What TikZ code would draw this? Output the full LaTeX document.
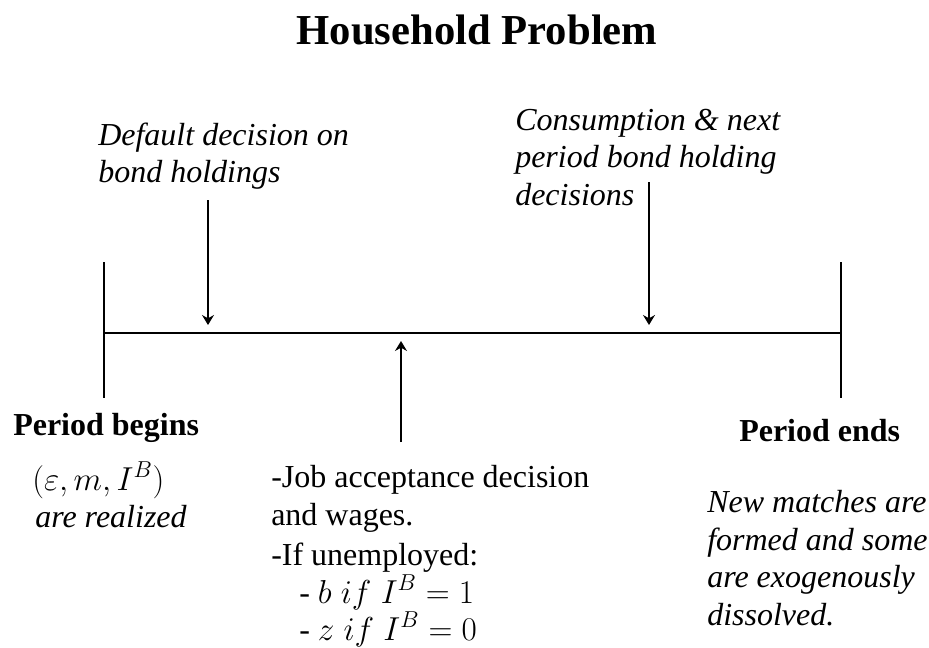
\documentclass[tikz,border=0pt]{standalone}
\usepackage{fontspec}
\setmainfont{Liberation Serif}
\usetikzlibrary{arrows.meta}
\begin{document}
\begin{tikzpicture}[x=0.75pt,y=-0.75pt,
  txt/.style={anchor=base west,inner sep=0pt,font=\fontsize{24}{28}\selectfont},
  itxt/.style={txt,font=\fontsize{24}{28}\selectfont\itshape},
  btxt/.style={txt,font=\fontsize{24}{28}\selectfont\bfseries},
  titletxt/.style={anchor=base,inner sep=0pt,font=\fontsize{32}{38}\selectfont\bfseries},
  timeline/.style={line width=2.2pt},
  tick/.style={line width=2pt},
  evarrow/.style={line width=1.4pt,-{Stealth[length=7.5pt,width=9pt,inset=2.5pt]}}]
\useasboundingbox (0,0) rectangle (929,647);
\fill[white] (0,0) rectangle (929,647);

% title
\node[titletxt] (title) at (477,44) {Household Problem};

% timeline and ticks
\coordinate (tlL) at (104,333);
\coordinate (tlR) at (841,333);
\coordinate (tickLtop) at (104,262);
\coordinate (tickLbot) at (104,398);
\coordinate (tickRtop) at (841,262);
\coordinate (tickRbot) at (841,398);
\draw[timeline] (tlL) -- (tlR);
\draw[tick] (tickLtop) -- (tickLbot);
\draw[tick] (tickRtop) -- (tickRbot);

% arrows
\coordinate (a1s) at (208,200);
\coordinate (a1e) at (208,325);
\coordinate (a2s) at (649,182);
\coordinate (a2e) at (649,325);
\coordinate (a3s) at (401,442);
\coordinate (a3e) at (401,341);
\draw[evarrow] (a1s) -- (a1e);
\draw[evarrow] (a2s) -- (a2e);
\draw[evarrow] (a3s) -- (a3e);

% top-left label
\node[itxt] (def1) at (98,145) {Default decision on};
\node[itxt] (def2) at (98,182) {bond holdings};

% top-right label
\node[itxt] (con1) at (515,130) {Consumption \& next};
\node[itxt] (con2) at (515,167) {period bond holding};
\node[itxt] (con3) at (515,205) {decisions};

% period begins
\node[btxt] (begins) at (13,435) {Period begins};
\node[txt] (state) at (32,490) {$(\varepsilon, m, I^{B})$};
\node[itxt] (real) at (35,527) {are realized};

% middle label
\node[txt] (job1) at (271,487) {-Job acceptance decision};
\node[txt] (job2) at (271,525) {and wages.};
\node[txt] (job3) at (271,565) {-If unemployed:};
\node[txt] (job4) at (299,603) {- $b\;if\;I^{B}=1$};
\node[txt] (job5) at (299,640) {- $z\;if\;I^{B}=0$};

% period ends
\node[btxt] (ends) at (739,441) {Period ends};
\node[itxt] (new1) at (707,512) {New matches are};
\node[itxt] (new2) at (707,550) {formed and some};
\node[itxt] (new3) at (707,587) {are exogenously};
\node[itxt] (new4) at (707,625) {dissolved.};
\end{tikzpicture}
\end{document}
